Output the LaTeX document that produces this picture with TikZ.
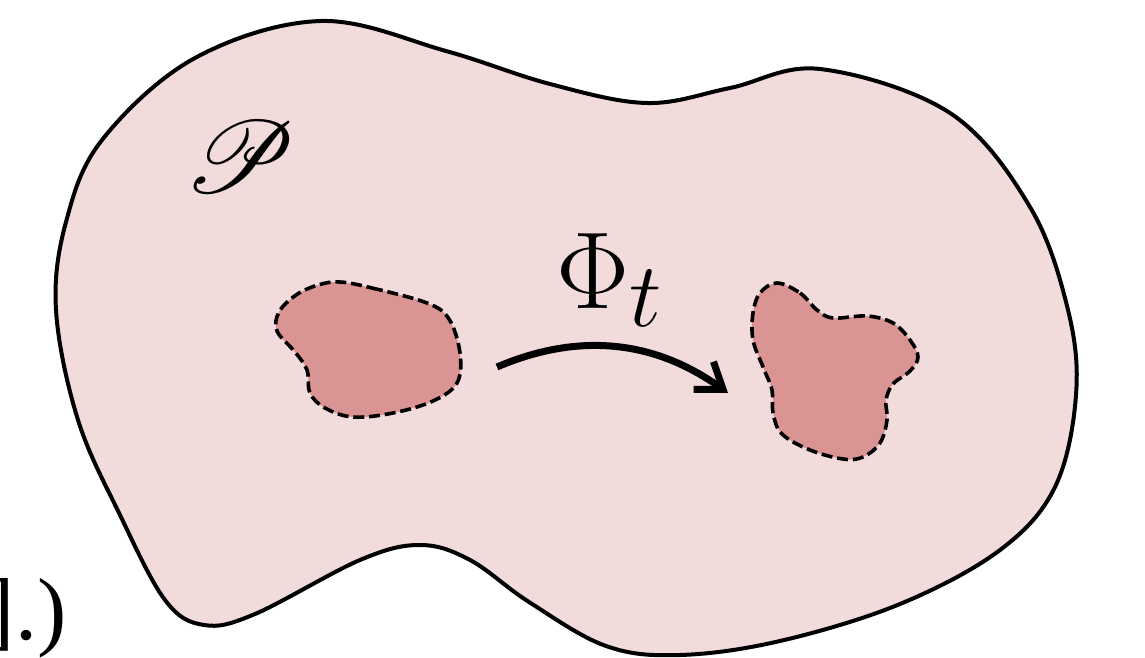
\RequirePackage{fix-cm}
\documentclass[tikz,border=0pt]{standalone}
\usepackage{fontspec}
\usepackage{mathrsfs}
\usetikzlibrary{arrows.meta}
\newfontfamily\tnrfont{Liberation Serif}
\definecolor{outerpink}{RGB}{242,219,219}
\definecolor{blobpink}{RGB}{218,148,148}
\tikzset{
  outerregion/.style={draw=black, fill=outerpink, line width=2pt, line join=round},
  subregion/.style={draw=black, fill=blobpink, line width=1.8pt, dash pattern=on 5.5pt off 2.4pt},
  flowarrow/.style={line width=3.5pt, -{Straight Barb[length=12pt,width=17pt,line width=3.5pt]}},
}
\begin{document}
\begin{tikzpicture}[x=0.5pt,y=-0.5pt]
\useasboundingbox (0,0) rectangle (1145,658);
\clip (0,0) rectangle (1145,658);
% outer body
\draw[outerregion] plot[smooth cycle, tension=0.6] coordinates {
 (321,21) (446,51) (550,84) (647,103) (730,88) (820,69) (950,113)
 (1030,207) (1068,310) (1076,395) (1055,487) (1000,550) (900,604)
 (780,641) (680,655) (606,646) (529,602) (470,560) (420,545) (360,560)
 (255,614) (204,625) (165,600) (120,515) (78,420) (56,310) (66,222)
 (102,140) (195,58)};
% left sub-region
\draw[subregion] plot[smooth cycle, tension=0.6] coordinates {
 (340,282) (372,288) (427,303) (449,319) (460,353) (457,383) (433,401)
 (393,413) (353,417) (325,408) (310,393) (307,370) (295,352) (277,331)
 (279,312) (296,295) (318,285)};
% right sub-region
\draw[subregion] plot[smooth cycle, tension=0.6] coordinates {
 (777,283) (800,293) (817,310) (833,318) (867,316) (893,323) (910,340)
 (918,357) (910,371) (893,384) (886,400) (887,420) (880,443) (863,457)
 (843,459) (810,450) (782,434) (773,413) (772,390) (763,367) (753,340)
 (753,313) (760,293)};
% labels
\node[inner sep=0, anchor=center, scale=2.05] (P) at (240,157) {\Huge$\mathscr{P}$};
\node[inner sep=0, anchor=base west, scale=2.2] (Phi) at (556,308) {\Huge$\Phi_t$};
\node[inner sep=0, anchor=base east] (cut) at (67,639) {\tnrfont\fontsize{44}{50}\selectfont].)};
% arrow
\coordinate (astart) at (497,367);
\coordinate (aend) at (728,393);
\draw[flowarrow] (astart) .. controls (560,340) and (640,330) .. (aend);
\end{tikzpicture}
\end{document}
